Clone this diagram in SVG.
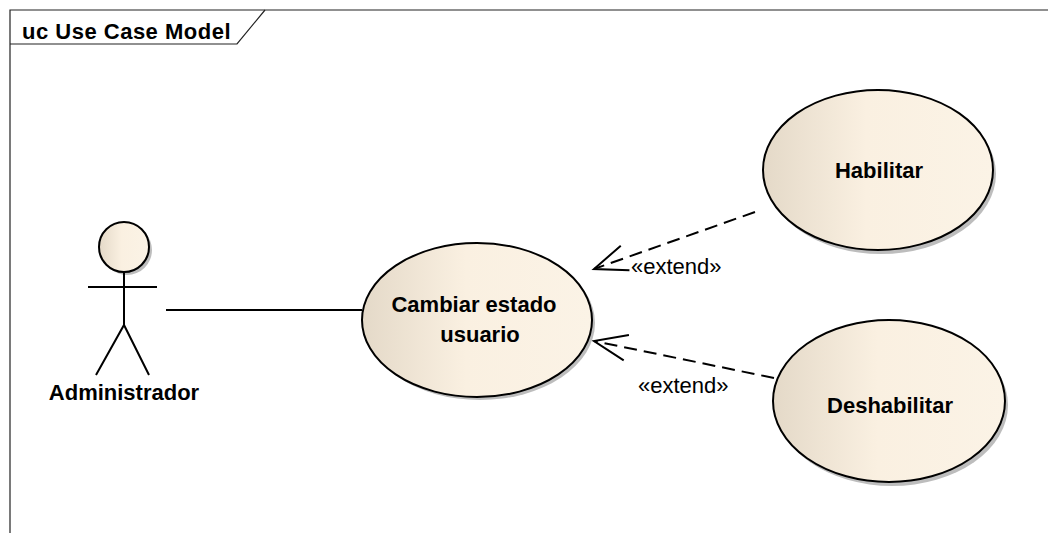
<svg xmlns="http://www.w3.org/2000/svg" width="1048" height="533" viewBox="0 0 1048 533">
<defs>
<linearGradient id="uc" x1="0" y1="0" x2="1" y2="0">
<stop offset="0" stop-color="#E4D9C8"/>
<stop offset="0.45" stop-color="#FAF0E1"/>
<stop offset="1" stop-color="#FBF3E6"/>
</linearGradient>
<marker id="open" viewBox="0 0 38 30" refX="35" refY="15" markerWidth="38" markerHeight="30" markerUnits="userSpaceOnUse" orient="auto">
<path d="M 2 2 L 35 15 L 2 28" fill="none" stroke="#000" stroke-width="2"/>
</marker>
</defs>
<style>
.frame{fill:none;stroke:#222;stroke-width:1.2}
.uc{fill:url(#uc);stroke:#000;stroke-width:2}
.sh{fill:#BDBDBD}
.lbl{font-family:"Liberation Sans",Arial,sans-serif;font-size:22px;font-weight:bold;fill:#000;text-anchor:middle}
.ext{font-family:"Liberation Sans",Arial,sans-serif;font-size:22px;fill:#000}
.ln{fill:none;stroke:#000;stroke-width:2}
.dash{fill:none;stroke:#000;stroke-width:2;stroke-dasharray:13 7}
</style>
<rect width="1048" height="533" fill="#fff"/>
<g id="frame">
<path class="frame" d="M 10 533 L 10 10 L 1048 10"/>
<path class="frame" d="M 10 44 L 237 44 L 265 10"/>
<text x="22" y="39" style="font-family:'Liberation Sans',Arial,sans-serif;font-size:22px;font-weight:bold;letter-spacing:0.5px">uc Use Case Model</text>
</g>
<g id="connectors">
<line class="ln" x1="166" y1="310" x2="362" y2="310"/>
<line class="dash" x1="755" y1="212" x2="594" y2="269" marker-end="url(#open)"/>
<text class="ext" x="631" y="274">«extend»</text>
<line class="dash" x1="774" y1="378" x2="594" y2="341" marker-end="url(#open)"/>
<text class="ext" x="638" y="393">«extend»</text>
</g>
<g id="actor">
<circle class="sh" cx="127" cy="250" r="25"/>
<circle class="uc" cx="124" cy="247" r="25"/>
<line class="ln" x1="124" y1="272" x2="124" y2="325"/>
<line class="ln" x1="88" y1="287" x2="157" y2="287"/>
<path class="ln" d="M 96 375 L 124 325 L 149 375"/>
<text class="lbl" x="124" y="400">Administrador</text>
</g>
<g id="cambiar">
<ellipse class="sh" cx="480" cy="323" rx="115" ry="77"/>
<ellipse class="uc" cx="477" cy="320" rx="115" ry="77"/>
<text class="lbl" x="474" y="312">Cambiar estado</text>
<text class="lbl" x="480" y="342">usuario</text>
</g>
<g id="habilitar">
<ellipse class="sh" cx="881" cy="174" rx="115" ry="80"/>
<ellipse class="uc" cx="878" cy="170" rx="115" ry="80"/>
<text class="lbl" x="879" y="178">Habilitar</text>
</g>
<g id="deshabilitar">
<ellipse class="sh" cx="892" cy="405" rx="116" ry="81"/>
<ellipse class="uc" cx="889" cy="401" rx="116" ry="81"/>
<text class="lbl" x="890" y="413">Deshabilitar</text>
</g>
</svg>
